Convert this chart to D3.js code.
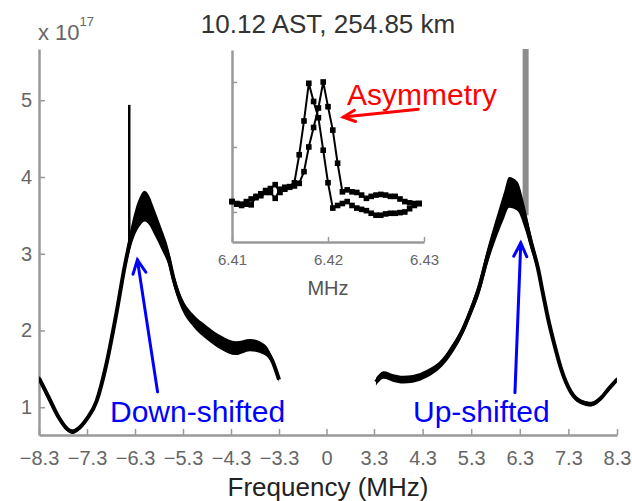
<!DOCTYPE html>
<html>
<head>
<meta charset="utf-8">
<script src="https://cdn.jsdelivr.net/npm/d3@7"></script>
<style>
  body { margin: 0; background: #fff; }
  svg { display: block; font-family: "Liberation Sans", Arial, Helvetica, sans-serif; }
</style>
</head>
<body>
<svg id="chart" width="632" height="501"></svg>
<script>
// down-shifted wing (x 10^17)
const leftFreq = [-8.3, -8.1, -7.9, -7.7, -7.6, -7.5, -7.3, -7.1, -6.9, -6.7, -6.5, -6.35, -6.2, -6.1, -6.0, -5.9, -5.75, -5.6, -5.5, -5.3, -5.1, -4.8, -4.5, -4.2, -3.9, -3.6, -3.45, -3.3];
const leftPower = [1.38, 1.13, 0.88, 0.71, 0.68, 0.71, 0.85, 1.08, 1.55, 2.18, 2.88, 3.30, 3.55, 3.62, 3.56, 3.42, 3.20, 2.95, 2.68, 2.32, 2.14, 1.97, 1.84, 1.77, 1.81, 1.75, 1.62, 1.36];
const leftSpread = [0.03, 0.03, 0.03, 0.03, 0.03, 0.03, 0.03, 0.03, 0.03, 0.05, 0.08, 0.14, 0.19, 0.20, 0.19, 0.17, 0.14, 0.11, 0.09, 0.08, 0.08, 0.09, 0.09, 0.09, 0.08, 0.07, 0.05, 0.03];

// up-shifted wing
const rightFreq = [3.34, 3.5, 3.7, 3.9, 4.1, 4.4, 4.7, 4.9, 5.1, 5.3, 5.45, 5.65, 5.85, 5.97, 6.08, 6.25, 6.39, 6.53, 6.67, 6.78, 6.88, 7.01, 7.15, 7.35, 7.56, 7.77, 7.97, 8.13, 8.3];
const rightPower = [1.33, 1.42, 1.38, 1.36, 1.37, 1.44, 1.58, 1.75, 1.97, 2.27, 2.53, 3.00, 3.40, 3.62, 3.80, 3.75, 3.50, 3.15, 2.82, 2.47, 2.16, 1.82, 1.50, 1.20, 1.07, 1.04, 1.12, 1.24, 1.36];
const rightSpread = [0.05, 0.05, 0.05, 0.05, 0.05, 0.05, 0.05, 0.06, 0.06, 0.07, 0.09, 0.11, 0.14, 0.17, 0.20, 0.19, 0.15, 0.10, 0.07, 0.05, 0.04, 0.04, 0.03, 0.03, 0.03, 0.03, 0.03, 0.03, 0.03];

// narrow lines at the pump offset
const spikeFreq = [-6.42, 6.42];
const spikeTop = [4.94, 6.3];
const spikeBase = [3.1, 3.5];
const spikeColor = ['#000', '#8c8c8c'];
const spikeWidth = [2.5, 6];

const xTicks = [-8.3, -7.3, -6.3, -5.3, -4.3, -3.3, 0, 3.3, 4.3, 5.3, 6.3, 7.3, 8.3];
const yTicks = [1, 2, 3, 4, 5];

// inset: zoom on 6.41 - 6.43 MHz, two spectra
const insetFreq = [6.4100, 6.4105, 6.4110, 6.4115, 6.4120, 6.4125, 6.4130, 6.4135, 6.4140, 6.4145,
  6.4150, 6.4155, 6.4160, 6.4165, 6.4170, 6.4175, 6.4180, 6.4185, 6.4190, 6.4195,
  6.4200, 6.4205, 6.4210, 6.4215, 6.4220, 6.4225, 6.4230, 6.4235, 6.4240, 6.4245,
  6.4250, 6.4255, 6.4260, 6.4265, 6.4270, 6.4275, 6.4280, 6.4285, 6.4290, 6.4295];
const insetA = [1.16, 1.13, 1.12, 1.12, 1.11, 1.24, 1.25, 1.30, 1.36, 1.42,
  1.30, 1.35, 1.39, 1.45, 1.88, 2.40, 2.98, 2.70, 2.45, 1.95,
  1.45, 1.06, 1.10, 1.13, 1.16, 1.10, 1.06, 1.04, 1.02, 0.98,
  0.95, 0.95, 0.97, 0.98, 0.98, 0.99, 1.00, 1.05, 1.10, 1.13];
const insetB = [1.16, 1.12, 1.10, 1.16, 1.20, 1.22, 1.28, 1.33, 1.30, 1.21,
  1.35, 1.38, 1.38, 1.40, 1.44, 1.62, 2.00, 2.30, 2.60, 3.00,
  2.62, 2.26, 1.75, 1.31, 1.34, 1.31, 1.30, 1.26, 1.21, 1.24,
  1.26, 1.27, 1.26, 1.24, 1.24, 1.20, 1.16, 1.14, 1.13, 1.13];
const insetXTicks = [6.41, 6.42, 6.43];
const insetYTicks = [1, 2, 3];

const svg = d3.select('#chart');
const axisGray = '#999';

// broken frequency axis: the gap -3.3..3.3 is squeezed
const x = d3.scaleLinear().domain([-8.3, -3.3, 3.3, 8.3]).range([39, 279, 374, 617]);
const y = d3.scaleLinear().domain([0.638, 5.668]).range([435, 49]);

svg.append('defs').append('clipPath').attr('id', 'plotclip')
  .append('rect').attr('x', 39).attr('y', 49).attr('width', 578).attr('height', 386);

function styleAxis(g, size) {
  g.select('.domain').attr('stroke', axisGray).attr('stroke-width', 2.5);
  g.selectAll('.tick line').attr('stroke', axisGray).attr('stroke-width', 1.5);
  g.selectAll('.tick text').attr('fill', '#666').style('font-size', size + 'px');
}

const fmt = d3.format('.1f');
const xAxis = d3.axisBottom(x).tickValues(xTicks).tickSize(-6).tickSizeOuter(0).tickPadding(16)
  .tickFormat(d => d === 0 ? '0' : fmt(d).replace('-', '\u2212'));
svg.append('g').attr('transform', 'translate(0,435)').call(xAxis).call(g => styleAxis(g, 20));

const yAxis = d3.axisLeft(y).tickValues(yTicks).tickSize(-6).tickSizeOuter(0).tickPadding(7)
  .tickFormat(d3.format('d'));
svg.append('g').attr('transform', 'translate(39,0)').call(yAxis).call(g => styleAxis(g, 20));

const plot = svg.append('g').attr('clip-path', 'url(#plotclip)');

// gray spike sits behind the up-shifted curve
plot.append('line')
  .attr('x1', x(spikeFreq[1])).attr('x2', x(spikeFreq[1]))
  .attr('y1', y(spikeBase[1])).attr('y2', y(spikeTop[1]))
  .attr('stroke', spikeColor[1]).attr('stroke-width', spikeWidth[1]);

function wing(freq, power, spread) {
  const pts = freq.map((f, i) => ({ f: f, p: power[i], s: spread[i] }));
  const area = d3.area().curve(d3.curveMonotoneX)
    .x(d => x(d.f)).y0(d => y(d.p - d.s)).y1(d => y(d.p + d.s));
  const line = d3.line().curve(d3.curveMonotoneX)
    .x(d => x(d.f)).y(d => y(d.p));
  plot.append('path').datum(pts).attr('d', area).attr('fill', '#000');
  plot.append('path').datum(pts).attr('d', line)
    .attr('fill', 'none').attr('stroke', '#000').attr('stroke-width', 4).attr('stroke-linejoin', 'round');
}
wing(leftFreq, leftPower, leftSpread);
wing(rightFreq, rightPower, rightSpread);

plot.append('line')
  .attr('x1', x(spikeFreq[0])).attr('x2', x(spikeFreq[0]))
  .attr('y1', y(spikeBase[0])).attr('y2', y(spikeTop[0]))
  .attr('stroke', spikeColor[0]).attr('stroke-width', spikeWidth[0]);

// ---- inset ----
const ix = d3.scaleLinear().domain([6.41, 6.43]).range([232, 424]);
const iy = d3.scaleLinear().domain([0.538, 3.492]).range([242, 50]);

const ixAxis = d3.axisBottom(ix).tickValues(insetXTicks).tickSize(-5).tickSizeOuter(0).tickPadding(12)
  .tickFormat(d3.format('.2f'));
svg.append('g').attr('transform', 'translate(0,242)').call(ixAxis).call(g => styleAxis(g, 15));
svg.append('g').attr('transform', 'translate(232,0)')
  .call(d3.axisLeft(iy).tickValues(insetYTicks).tickSize(-5).tickSizeOuter(0).tickFormat(''))
  .call(g => styleAxis(g, 15));

svg.append('text').attr('x', 328).attr('y', 295).attr('text-anchor', 'middle')
  .attr('fill', '#555').style('font-size', '20px').text('MHz');

[insetA, insetB].forEach(series => {
  const pts = insetFreq.map((f, i) => [f, series[i]]);
  svg.append('path').datum(pts)
    .attr('d', d3.line().x(d => ix(d[0])).y(d => iy(d[1])))
    .attr('fill', 'none').attr('stroke', '#000').attr('stroke-width', 2);
  svg.append('g').selectAll('rect').data(pts).enter().append('rect')
    .attr('x', d => ix(d[0]) - 2.8).attr('y', d => iy(d[1]) - 2.8)
    .attr('width', 5.6).attr('height', 5.6).attr('fill', '#000');
});

// ---- annotations ----
function arrow(x1, y1, x2, y2, color, width, head) {
  const a = Math.atan2(y2 - y1, x2 - x1);
  const g = svg.append('g').attr('stroke', color).attr('stroke-width', width)
    .attr('fill', 'none').attr('stroke-linecap', 'round');
  g.append('line').attr('x1', x1).attr('y1', y1).attr('x2', x2).attr('y2', y2);
  const b1 = a + Math.PI - 0.45, b2 = a + Math.PI + 0.45;
  g.append('path').attr('d',
    'M' + (x2 + head * Math.cos(b1)) + ',' + (y2 + head * Math.sin(b1)) +
    'L' + x2 + ',' + y2 +
    'L' + (x2 + head * Math.cos(b2)) + ',' + (y2 + head * Math.sin(b2)));
}

arrow(x(-5.83), y(1.20), x(-6.25), y(2.92), '#0000ff', 3, 15);
arrow(x(6.20), y(1.19), x(6.32), y(3.14), '#0000ff', 3, 15);
arrow(ix(6.4294), iy(2.58), ix(6.4216), iy(2.46), '#ff0000', 3, 13);

svg.append('text').attr('x', 110).attr('y', 422).attr('fill', '#0000ff')
  .style('font-size', '30px').text('Down-shifted');
svg.append('text').attr('x', 413).attr('y', 422).attr('fill', '#0000ff')
  .style('font-size', '30px').text('Up-shifted');
svg.append('text').attr('x', 347).attr('y', 105).attr('fill', '#ff0000')
  .style('font-size', '30px').text('Asymmetry');

// titles
svg.append('text').attr('x', 328).attr('y', 33).attr('text-anchor', 'middle')
  .attr('fill', '#333').style('font-size', '26px').text('10.12 AST, 254.85 km');
svg.append('text').attr('x', 328).attr('y', 496).attr('text-anchor', 'middle')
  .attr('fill', '#222').style('font-size', '26px').text('Frequency (MHz)');

// exponent label
const expo = svg.append('text').attr('x', 38).attr('y', 40).attr('fill', '#666').style('font-size', '22px');
expo.append('tspan').text('x 10');
expo.append('tspan').attr('dy', -14).style('font-size', '13px').text('17');
</script>
</body>
</html>
